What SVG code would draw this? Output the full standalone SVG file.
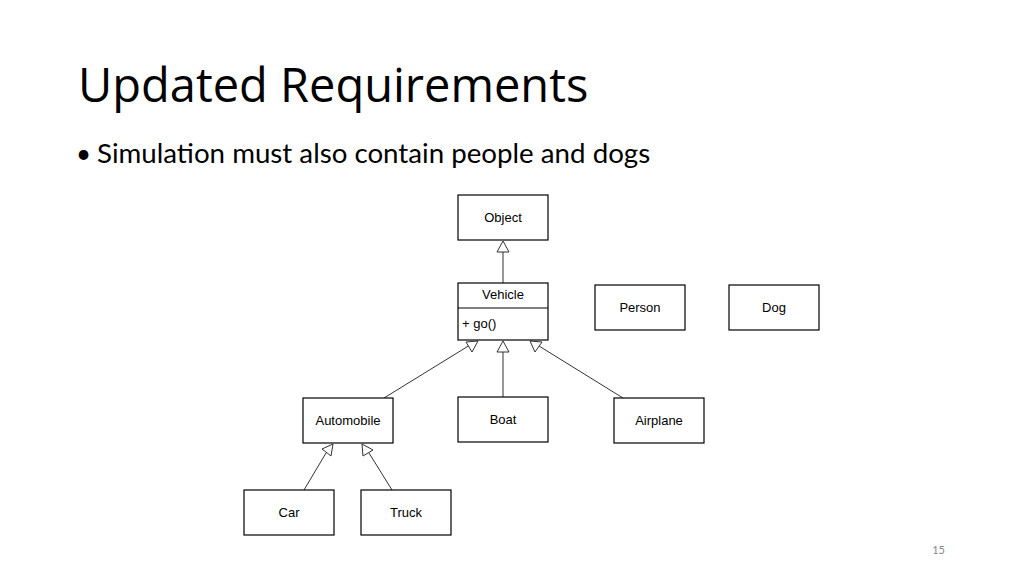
<svg xmlns="http://www.w3.org/2000/svg" width="1024" height="575" viewBox="0 0 1024 575">
<style>
.b{fill:#fff;stroke:#000;stroke-width:1.2}
.t{font-family:"Liberation Sans",Arial,sans-serif;font-size:13px;text-anchor:middle;fill:#000}
.l{font-family:"Liberation Sans",Arial,sans-serif;font-size:13px;text-anchor:start;fill:#000}
.c{stroke:#333;stroke-width:1;fill:none}
.h{fill:#fff;stroke:#333;stroke-width:1}
</style>
<rect width="1024" height="575" fill="#fff"/>
<text x="78" y="102" font-family="'Open Sans',sans-serif" font-size="47" fill="#000">Updated Requirements</text>
<text x="76" y="163" font-family="Lato,'Open Sans',sans-serif" font-size="26" fill="#000">•</text>
<text x="97" y="163" font-family="Lato,'Open Sans',sans-serif" font-size="27.7" fill="#000">Simulation must also contain people and dogs</text>
<text x="945" y="554" font-family="Lato,sans-serif" font-size="11" fill="#888" text-anchor="end">15</text>
<g id="connectors">
<line class="c" x1="503" y1="283" x2="503" y2="252"/><polygon class="h" points="503,241 497,252 509,252"/>
<line class="c" x1="503" y1="397" x2="503" y2="352"/><polygon class="h" points="503,341 497,352 509,352"/>
<line class="c" x1="384" y1="398" x2="470" y2="345"/><polygon class="h" points="478,341 466,342 472,352"/>
<line class="c" x1="623" y1="398" x2="539" y2="346"/><polygon class="h" points="530,341 535,352 542,342"/>
<line class="c" x1="304" y1="490" x2="326" y2="453"/><polygon class="h" points="333,444 322,449 331,456"/>
<line class="c" x1="392" y1="490" x2="369" y2="453"/><polygon class="h" points="362,444 363,456 373,450"/>
</g>
<g id="Object"><rect class="b" x="458" y="195" width="90" height="45"/><text class="t" x="503" y="222">Object</text></g>
<g id="Vehicle"><rect class="b" x="458" y="283" width="90" height="57"/><line x1="458" y1="308" x2="548" y2="308" stroke="#000" stroke-width="1.2"/><text class="t" x="503" y="299">Vehicle</text><text class="l" x="462" y="328">+ go()</text></g>
<g id="Person"><rect class="b" x="595" y="285" width="90" height="45"/><text class="t" x="640" y="312">Person</text></g>
<g id="Dog"><rect class="b" x="729" y="285" width="90" height="45"/><text class="t" x="774" y="312">Dog</text></g>
<g id="Automobile"><rect class="b" x="303" y="398" width="90" height="45"/><text class="t" x="348" y="425">Automobile</text></g>
<g id="Boat"><rect class="b" x="458" y="397" width="90" height="45"/><text class="t" x="503" y="424">Boat</text></g>
<g id="Airplane"><rect class="b" x="614" y="398" width="90" height="45"/><text class="t" x="659" y="425">Airplane</text></g>
<g id="Car"><rect class="b" x="244" y="490" width="90" height="45"/><text class="t" x="289" y="517">Car</text></g>
<g id="Truck"><rect class="b" x="361" y="490" width="90" height="45"/><text class="t" x="406" y="517">Truck</text></g>
</svg>
